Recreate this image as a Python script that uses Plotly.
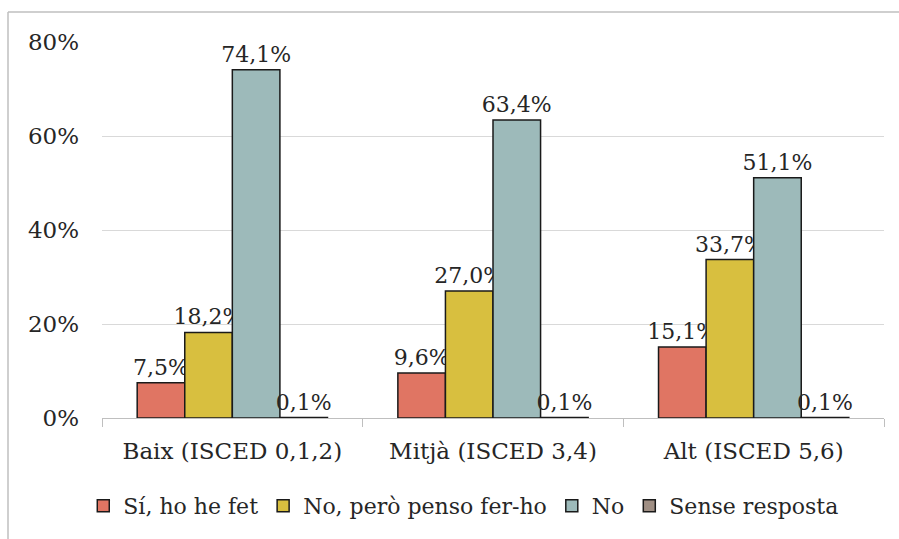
import plotly.graph_objects as go

categories = ["Baix (ISCED 0,1,2)", "Mitjà (ISCED 3,4)", "Alt (ISCED 5,6)"]
series_names = ["Sí, ho he fet", "No, però penso fer-ho", "No", "Sense resposta"]
si_fet = [7.5, 9.6, 15.1]
penso = [18.2, 27.0, 33.7]
no = [74.1, 63.4, 51.1]
sense = [0.1, 0.1, 0.1]
y_ticks = [0, 20, 40, 60, 80]
y_tick_labels = ["0%", "20%", "40%", "60%", "80%"]

colors = ["#E07563", "#D8BF3F", "#9DBABA", "#A08F84"]
FONT = "DejaVu Serif"
TXT = "#262626"

fig = go.Figure()
for name, vals, col in zip(series_names, [si_fet, penso, no, sense], colors):
    fig.add_trace(go.Bar(
        x=categories, y=vals, name=name,
        marker=dict(color=col, line=dict(color="#1a1a1a", width=1.5)),
        text=[f"{v:.1f}%".replace(".", ",") for v in vals],
        textposition="outside", cliponaxis=False, constraintext="none",
        textfont=dict(family=FONT, size=22, color=TXT),
    ))

L, R, T, B = 102, 884, 42, 418
W, H = 899, 539
pw, ph = R - L, B - T

fig.update_layout(
    width=W, height=H,
    margin=dict(l=L, r=W - R, t=T, b=H - B),
    barmode="group", bargap=0.27, bargroupgap=0,
    plot_bgcolor="white", paper_bgcolor="white",
    font=dict(family=FONT, size=22, color=TXT),
    showlegend=True,
    legend=dict(orientation="h", x=0.462, xanchor="center", y=(B - 506) / ph, yanchor="middle",
                font=dict(family=FONT, size=22, color=TXT), traceorder="normal",
                itemwidth=30, tracegroupgap=0),
    xaxis=dict(type="category", tickson="boundaries", ticks="outside", ticklen=8,
               tickcolor="#BFBFBF", showline=True, linecolor="#BFBFBF", linewidth=1,
               showgrid=False, ticklabelstandoff=12,
               tickfont=dict(family=FONT, size=23, color=TXT)),
    yaxis=dict(range=[0, 80], tickvals=y_ticks, ticktext=y_tick_labels, showgrid=True,
               gridcolor="#D9D9D9", gridwidth=1, zeroline=False, showline=False,
               ticks="", ticklabelstandoff=22, tickfont=dict(family=FONT, size=23, color=TXT)),
    shapes=[
        dict(type="line", xref="paper", yref="paper", x0=(8 - L) / pw, x1=(W - L) / pw,
             y0=(B - 12) / ph, y1=(B - 12) / ph, line=dict(color="#BFBFBF", width=1.5)),
        dict(type="line", xref="paper", yref="paper", x0=(8 - L) / pw, x1=(8 - L) / pw,
             y0=(B - 12) / ph, y1=(B - H) / ph, line=dict(color="#BFBFBF", width=1.5)),
    ],
)
fig.write_html("out.html", config={"displayModeBar": False},
               post_script="document.body.style.margin='0px';")
